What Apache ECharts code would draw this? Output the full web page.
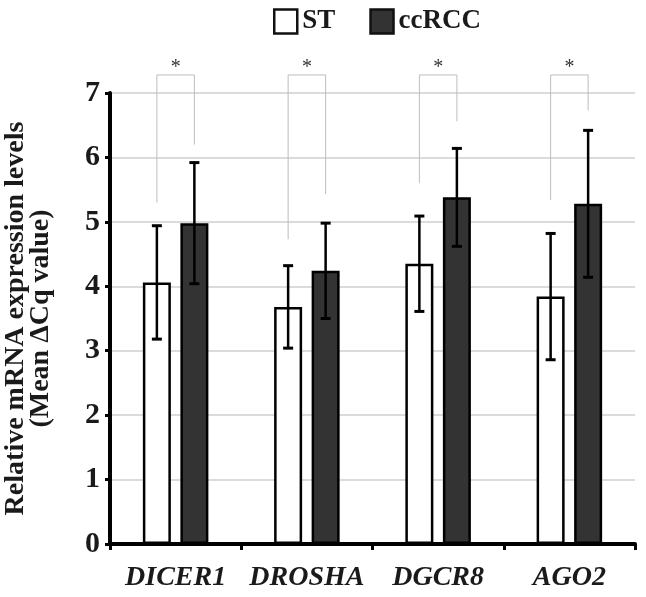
<!DOCTYPE html>
<html>
<head>
<meta charset="utf-8">
<script src="https://cdn.jsdelivr.net/npm/echarts@6/dist/echarts.min.js"></script>
<style>
  html, body { margin: 0; padding: 0; background: #fff; }
  #chart { width: 646px; height: 597px; }
</style>
</head>
<body>
<div id="chart"></div>
<script>
// data
var genes = ['DICER1', 'DROSHA', 'DGCR8', 'AGO2'];
var stMean = [4.06, 3.68, 4.35, 3.84];
var stErr = [0.88, 0.64, 0.74, 0.98];
var rccMean = [4.98, 4.24, 5.38, 5.28];
var rccErr = [0.94, 0.74, 0.76, 1.14];
// significance brackets: bottom of left leg, bottom of right leg, top
var brLeft = [5.30, 4.73, 5.60, 5.34];
var brRight = [6.20, 5.43, 6.56, 6.73];
var brTop = [7.28, 7.28, 7.28, 7.28];
var yTicks = [0, 1, 2, 3, 4, 5, 6, 7];

var font = 'Liberation Serif, Times New Roman, serif';
var BAR_W = 28;
var HALF = 18.75; // distance from category centre to each bar centre

var chart = echarts.init(document.getElementById('chart'));

function errItem(offset, means, errs) {
    return function (params, api) {
        var i = api.value(0);
        var hi = api.coord([i, means[i] + errs[i]]);
        var lo = api.coord([i, means[i] - errs[i]]);
        var x = hi[0] + offset;
        var style = {stroke: '#000', lineWidth: 2.5};
        return {
            type: 'group',
            children: [
                {type: 'line', shape: {x1: x, y1: hi[1], x2: x, y2: lo[1]}, style: style},
                {type: 'line', shape: {x1: x - 5, y1: hi[1], x2: x + 5, y2: hi[1]}, style: {stroke: '#000', lineWidth: 3}},
                {type: 'line', shape: {x1: x - 5, y1: lo[1], x2: x + 5, y2: lo[1]}, style: {stroke: '#000', lineWidth: 3}}
            ]
        };
    };
}

chart.setOption({
    animation: false,
    legend: {
        top: 3,
        left: 268,
        itemWidth: 23,
        itemHeight: 24,
        itemGap: 34,
        icon: 'rect',
        textStyle: {fontFamily: font, fontWeight: 'bold', fontSize: 27, color: '#1a1a1a'},
        data: [
            {name: 'ST', itemStyle: {color: '#fff', borderColor: '#111', borderWidth: 2.5}},
            {name: 'ccRCC', itemStyle: {color: '#333', borderColor: '#111', borderWidth: 2.5}}
        ]
    },
    grid: {left: 110, right: 11, top: 93, bottom: 53, outerBoundsMode: 'none', containLabel: false},
    xAxis: {
        type: 'category',
        data: genes,
        axisLine: {lineStyle: {color: '#000', width: 4}},
        axisTick: {show: true, interval: 0, length: 6, lineStyle: {color: '#000', width: 3}},
        axisLabel: {
            interval: 0,
            margin: 20,
            fontFamily: font, fontWeight: 'bold', fontStyle: 'italic', fontSize: 28, color: '#1a1a1a'
        }
    },
    yAxis: {
        type: 'value',
        min: 0, max: 7, interval: 1,
        name: 'Relative mRNA expression levels\n(Mean ΔCq value)',
        nameLocation: 'middle',
        nameRotate: 90,
        nameGap: 57,
        nameTextStyle: {fontFamily: font, fontWeight: 'bold', fontSize: 28, lineHeight: 25, color: '#1a1a1a'},
        axisLine: {show: true, lineStyle: {color: '#000', width: 4}},
        axisTick: {show: true, length: 5, lineStyle: {color: '#000', width: 3}},
        axisLabel: {
            margin: 10,
            fontFamily: font, fontWeight: 'bold', fontSize: 30, color: '#1a1a1a',
            formatter: function (v) { return yTicks.indexOf(v) >= 0 ? String(v) : ''; }
        },
        splitLine: {lineStyle: {color: '#cfcfcf', width: 1.5}}
    },
    series: [
        {
            name: 'ST', type: 'bar', data: stMean,
            barWidth: BAR_W, barGap: '34%',
            itemStyle: {color: '#fff', borderColor: '#000', borderWidth: 2.5}
        },
        {
            name: 'ccRCC', type: 'bar', data: rccMean,
            barWidth: BAR_W,
            itemStyle: {color: '#333', borderColor: '#000', borderWidth: 2.5}
        },
        {
            type: 'custom', z: 5,
            data: genes.map(function (g, i) { return [i]; }),
            renderItem: errItem(-HALF, stMean, stErr)
        },
        {
            type: 'custom', z: 5,
            data: genes.map(function (g, i) { return [i]; }),
            renderItem: errItem(HALF, rccMean, rccErr)
        },
        {
            // significance brackets
            type: 'custom', z: 1,
            data: genes.map(function (g, i) { return [i]; }),
            renderItem: function (params, api) {
                var i = api.value(0);
                var top = api.coord([i, brTop[i]]);
                var l = api.coord([i, brLeft[i]]);
                var r = api.coord([i, brRight[i]]);
                var x1 = top[0] - HALF, x2 = top[0] + HALF;
                return {
                    type: 'group',
                    children: [
                        {
                            type: 'polyline',
                            shape: {points: [[x1, l[1]], [x1, top[1]], [x2, top[1]], [x2, r[1]]]},
                            style: {stroke: '#bdbdbd', lineWidth: 1, fill: null}
                        },
                        {
                            type: 'text',
                            style: {
                                text: '*', x: top[0], y: top[1] - 7,
                                align: 'center', verticalAlign: 'middle',
                                font: '20px ' + font, fill: '#333'
                            }
                        }
                    ]
                };
            }
        }
    ]
});
</script>
</body>
</html>
